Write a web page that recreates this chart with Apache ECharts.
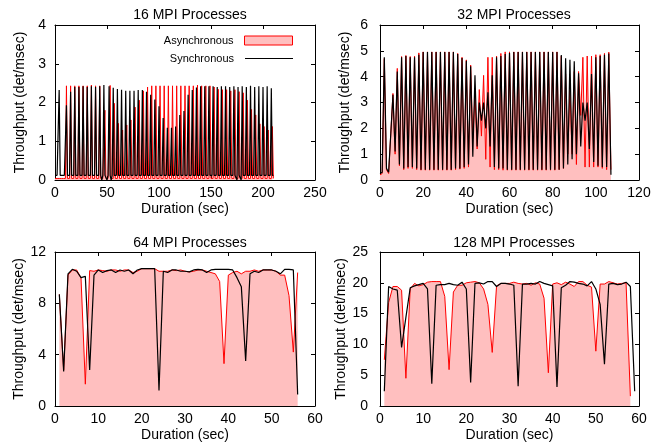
<!DOCTYPE html>
<html><head><meta charset="utf-8">
<script src="https://cdn.jsdelivr.net/npm/echarts@6/dist/echarts.min.js"></script>
<style>html,body{margin:0;padding:0;background:#fff}#c{width:668px;height:447px}</style>
</head><body><div id="c"></div>
<script>
// ---------- Data ----------
const panelTitles = ['16 MPI Processes', '32 MPI Processes', '64 MPI Processes', '128 MPI Processes'];
const seriesNames = ['Asynchronous', 'Synchronous'];
const xAxisTitle = 'Duration (sec)';
const yAxisTitle = 'Throughput (det/msec)';

// x tick ranges per panel: [min, max, interval]
const xTicks = [[0, 250, 50], [0, 120, 20], [0, 60, 10], [0, 60, 10]];
const yTicks = [[0, 4, 1], [0, 6, 1], [0, 12, 4], [0, 25, 5]];

// sample start times (1 s sampling)
const startTimes = [0, 0, 1, 1];

// 16 MPI processes
const async16 = [
0.04,0.04,0.04,0.04,0.04,0.04,0.04,0.04,0.04,0.04,
0.04,2.43,0.04,0.04,0.04,2.43,0.04,0.04,0.04,2.43,
0.04,0.04,0.04,2.43,0.04,0.04,0.04,2.43,0.04,0.04,
0.04,2.43,0.04,0.04,0.04,2.45,0.04,0.04,0.04,2.43,
0.04,0.04,0.04,2.43,0.04,0.04,0.04,0.04,1.8,0.04,
0.04,0.04,0.04,2.44,0.04,0.04,0.04,1.98,0.04,0.04,
0.04,1.46,0.04,0.04,0.04,1.29,0.04,0.04,0.04,1.42,
0.04,0.04,0.04,1.55,0.04,0.04,0.04,1.88,0.04,0.04,
0.04,2.06,0.04,0.04,0.04,2.3,0.04,0.04,0.04,2.4,
0.04,0.04,0.04,2.43,0.04,0.04,0.04,2.43,0.04,0.04,
0.04,2.43,0.04,0.04,0.04,2.43,0.04,0.04,0.04,2.43,
0.04,0.04,0.04,2.43,0.04,0.04,0.04,2.43,0.04,0.04,
0.04,2.43,0.04,0.04,0.04,2.43,0.04,0.04,0.04,2.43,
0.04,0.04,0.04,2.43,0.04,0.04,0.04,2.45,0.04,0.04,
0.04,2.43,0.04,0.04,0.04,2.43,0.04,0.04,0.04,2.43,
0.04,0.04,0.04,2.4,0.04,0.04,0.04,2.34,0.04,0.04,
0.04,2.33,0.04,0.04,0.04,2.33,0.04,0.04,0.04,2.3,
0.04,0.04,0.04,2.33,0.04,0.04,0.04,2.28,0.04,0.04,
0.04,2.25,0.04,0.04,0.04,2.06,0.04,0.04,0.04,1.82,
0.04,0.04,0.04,1.68,0.04,0.04,0.04,1.45,0.04,0.04,
0.04,1.38,0.04,0.04,0.04,1.29,0.04,0.04,0.04,1.38,
0.04];
const sync16 = [
0.12,0.12,0.12,0.12,2.32,0.12,0.12,0.12,0.12,0.12,
0.12,1.93,0.12,0.12,0.12,2.28,0.12,0.12,0.12,2.4,
0.12,0.12,0.12,2.4,0.12,0.12,0.12,2.42,0.12,0.12,
0.12,2.4,0.12,0.12,0.12,2.42,0.12,0.12,0.12,2.4,
0.12,0.12,0.12,2.42,0.12,0,0.12,2.45,0.12,0.12,
0,0.12,2.42,0.12,0,0.12,2.38,0.12,0.12,0.12,
2.35,0.12,0.12,0.12,2.33,0.12,0.12,0.12,2.3,0.12,
0.12,0.12,2.3,0.12,0.12,0.12,2.3,0.12,0.12,0.12,
2.32,0.12,0.12,0.12,2.32,0.12,0.12,0.12,2.28,0.12,
0.12,0.12,2.2,0.12,0.12,0.12,2.08,0.12,0.12,0.12,
1.9,0.12,0.12,0.12,1.6,0.12,0.12,0.12,1.35,0.12,
0.12,0.12,1.35,0.12,0.12,0.12,1.38,0.12,0.12,0.12,
1.68,0.12,0.12,0.12,1.78,0.12,0.12,0.12,2.2,0.12,
0.12,0.12,2.32,0.12,0.12,0.12,2.39,0.12,0.12,0.12,
2.42,0.12,0.12,0.12,2.42,0.12,0.12,0.12,2.42,0.12,
0.12,0.12,2.42,0.12,0.12,0.12,2.4,0.12,0.12,0.12,
2.42,0.12,0.12,0.12,2.42,0.12,0.12,0.12,2.4,0.12,
0.12,0.12,2.42,0.12,0.12,0,2.4,0.12,0.12,0,
2.42,0.12,0.12,0.12,2.4,0.12,0.12,0.12,2.43,0.12,
0.12,0.12,2.4,0.12,0.12,0.12,2.42,0.12,0.12,0.12,
2.4,0.12,0.12,0.12,2.42,0.12,0.12,0.12,2.37,0.12,
0.12];

// 32 MPI processes
const async32 = [
0.2,0.25,4.7,0.4,0.25,1.8,3.35,1.0,4.32,0.55,
4.78,0.4,4.82,0.45,4.78,0.45,4.8,0.4,4.92,0.38,
4.96,0.38,4.96,0.38,4.96,0.38,4.96,0.38,4.96,0.38,
4.96,0.38,4.96,0.38,4.96,0.4,4.9,0.42,4.75,0.45,
4.65,0.5,4.45,1.6,3.25,1.2,3.5,1.7,4.05,0.8,
4.75,0.5,4.75,0.4,4.8,0.4,4.9,0.38,4.96,0.38,
4.96,0.38,4.96,0.38,4.96,0.38,4.96,0.38,4.96,0.38,
4.96,0.38,4.96,0.38,4.96,0.38,4.96,0.38,4.96,0.38,
4.96,0.38,4.96,0.4,4.8,0.45,4.1,1.0,3.5,1.0,
4.2,0.6,4.2,2.5,4.75,0.5,4.8,0.5,4.8,0.5,
4.85,0.5,4.85,0.45,4.9,0.4,4.95,0.4];
const sync32 = [
0.25,0.3,4.75,0.45,0.3,1.8,3.3,1.1,4.2,0.6,
4.75,0.45,4.8,0.5,4.75,0.5,4.75,0.45,4.85,0.4,
4.95,0.4,4.95,0.4,4.95,0.4,4.95,0.4,4.95,0.4,
4.95,0.4,4.95,0.4,4.95,0.45,4.88,0.45,4.72,0.5,
4.62,0.6,4.4,0.9,4.05,1.3,3.0,2.3,3.0,2.0,
3.4,1.3,4.05,0.5,4.75,0.45,4.8,0.45,4.88,0.4,
4.92,0.4,4.95,0.4,4.95,0.4,4.95,0.4,4.95,0.4,
4.95,0.4,4.95,0.4,4.95,0.4,4.95,0.4,4.95,0.4,
4.95,0.4,4.95,0.4,4.84,0.45,4.71,0.6,4.65,0.8,
4.6,1.0,4.13,1.3,3.0,2.3,3.0,1.2,4.1,0.7,
4.75,0.55,4.8,0.5,4.85,0.5,4.9,0.2];

// 64 MPI processes (t = 1..56)
const async64 = [
8.7,2.8,10.2,10.6,10.6,10.0,1.7,10.55,10.5,10.6,
10.55,10.5,10.6,10.6,10.5,10.6,10.6,10.4,10.5,10.7,
10.7,10.7,10.7,10.5,10.5,10.5,10.6,10.55,10.6,10.5,
10.45,10.5,10.6,10.6,10.5,10.4,10.3,9.7,3.3,10.2,
10.4,10.5,10.3,10.5,10.5,10.6,10.5,10.6,10.6,10.6,
10.5,10.2,10.2,8.6,4.2,10.4];
const sync64 = [
8.7,2.7,10.3,10.65,10.5,10.0,10.1,2.8,10.2,10.6,
10.4,10.55,10.6,10.4,10.6,10.5,10.6,10.3,10.6,10.7,
10.7,10.7,10.7,1.2,10.5,10.4,10.6,10.6,10.5,10.5,
10.45,10.6,10.65,10.6,10.4,10.6,10.65,10.65,10.65,10.65,
10.6,10.0,9.3,3.5,10.3,10.5,10.4,10.6,10.6,10.6,
10.5,10.3,10.65,10.65,10.6,0.9];

// 128 MPI processes (t = 1..)
const async128 = [
7.5,16.8,19.4,19.4,18.8,4.5,19.0,19.9,19.5,19.7,
20.1,20.2,20.2,20.2,17.8,5.9,18.5,19.6,19.6,20.0,
20.1,20.2,20.0,19.0,16.5,8.7,19.5,19.9,19.9,19.9,
20.1,19.9,19.8,19.9,19.6,20.0,19.8,17.5,5.4,19.8,
20.0,19.7,20.1,19.8,19.4,20.2,20.2,19.6,19.3,8.9,
19.8,19.8,20.2,20.0,19.8,19.9,20.0,1.6];
const sync128 = [
2.4,19.4,19.0,18.8,9.5,14.4,19.2,19.5,19.7,19.9,
19.0,3.6,19.6,19.7,19.7,19.9,19.7,19.6,20.1,19.0,
3.8,19.9,20.0,19.8,20.2,20.2,19.4,19.9,19.9,19.8,
19.6,3.2,19.8,19.8,19.9,19.8,20.2,19.9,19.7,19.5,
3.1,19.2,19.6,20.2,20.1,19.9,19.8,19.5,20.2,19.0,
16.5,6.8,19.8,19.9,19.7,19.8,20.1,19.4,2.4];

const asyncData = [async16, async32, async64, async128];
const syncData = [sync16, sync32, sync64, sync128];

// ---------- Layout ----------
const FONT = '"Liberation Sans", Arial, sans-serif';
const grids = [
  {left: 55, top: 25, width: 260, height: 155},
  {left: 380, top: 25, width: 259, height: 155},
  {left: 55, top: 252, width: 260, height: 154},
  {left: 380, top: 252, width: 259, height: 154}
];
const titleCenters = [[185, 3], [509, 3], [185, 231], [509, 231]];
const yLabelMargins = [9, 12, 9, 12];

const toPairs = (arr, t0) => arr.map((v, i) => [t0 + i, v]);

const xAxes = [], yAxes = [], series = [], titles = [];
grids.forEach((g, k) => {
  const [xmin, xmax, xint] = xTicks[k];
  const [ymin, ymax, yint] = yTicks[k];
  const line = {show: true, onZero: false, lineStyle: {color: '#000', width: 1}};
  const tick = {show: true, inside: true, length: 4, lineStyle: {color: '#000', width: 1}};
  xAxes.push({
    type: 'value', gridIndex: k, position: 'bottom', min: xmin, max: xmax, interval: xint,
    axisLine: line, axisTick: tick, splitLine: {show: false},
    axisLabel: {fontSize: 14, color: '#000', fontFamily: FONT, margin: 6},
    name: xAxisTitle, nameLocation: 'middle', nameGap: 22,
    nameTextStyle: {fontSize: 14, color: '#000', fontFamily: FONT}
  });
  xAxes.push({
    type: 'value', gridIndex: k, position: 'top', min: xmin, max: xmax, interval: xint,
    axisLine: line, axisTick: tick, splitLine: {show: false}, axisLabel: {show: false}
  });
  yAxes.push({
    type: 'value', gridIndex: k, position: 'left', min: ymin, max: ymax, interval: yint,
    axisLine: line, axisTick: tick, splitLine: {show: false},
    axisLabel: {fontSize: 14, color: '#000', fontFamily: FONT, margin: yLabelMargins[k]},
    name: yAxisTitle, nameLocation: 'middle', nameGap: 28,
    nameTextStyle: {fontSize: 14, color: '#000', fontFamily: FONT}
  });
  yAxes.push({
    type: 'value', gridIndex: k, position: 'right', min: ymin, max: ymax, interval: yint,
    axisLine: line, axisTick: tick, splitLine: {show: false}, axisLabel: {show: false}
  });
  titles.push({
    text: panelTitles[k], left: titleCenters[k][0], top: titleCenters[k][1], textAlign: 'center',
    textStyle: {fontSize: 14, fontWeight: 'normal', color: '#000', fontFamily: FONT}
  });
  series.push({
    type: 'line', name: seriesNames[0], xAxisIndex: 2 * k, yAxisIndex: 2 * k,
    data: toPairs(asyncData[k], startTimes[k]), symbol: 'none', z: 2,
    lineStyle: {color: '#ff0000', width: 1}, itemStyle: {color: '#ff0000'},
    areaStyle: {color: '#ffbfbf', opacity: 1}
  });
  series.push({
    type: 'line', name: seriesNames[1], xAxisIndex: 2 * k, yAxisIndex: 2 * k,
    data: toPairs(syncData[k], startTimes[k]), symbol: 'none', z: 3,
    lineStyle: {color: '#000', width: 1.2}, itemStyle: {color: '#000'}
  });
});

const chart = echarts.init(document.getElementById('c'), null, {renderer: 'canvas'});
chart.setOption({
  animation: false,
  backgroundColor: '#fff',
  title: titles,
  grid: grids,
  xAxis: xAxes,
  yAxis: yAxes,
  legend: [
    {data: [{name: seriesNames[0], icon: 'rect', itemStyle: {color: '#ffbfbf', borderColor: '#ff0000', borderWidth: 1}}],
     right: 370, top: 30, align: 'right', itemWidth: 48, itemHeight: 9, selectedMode: false,
     textStyle: {fontSize: 11, color: '#000', fontFamily: FONT, padding: [0, 6, 0, 0]}},
    {data: [{name: seriesNames[1], icon: 'rect', itemStyle: {color: '#000'}}],
     right: 370, top: 48, align: 'right', itemWidth: 48, itemHeight: 1.2, selectedMode: false,
     textStyle: {fontSize: 11, color: '#000', fontFamily: FONT, padding: [0, 6, 0, 0]}}
  ],
  series: series
});
</script>
</body></html>
